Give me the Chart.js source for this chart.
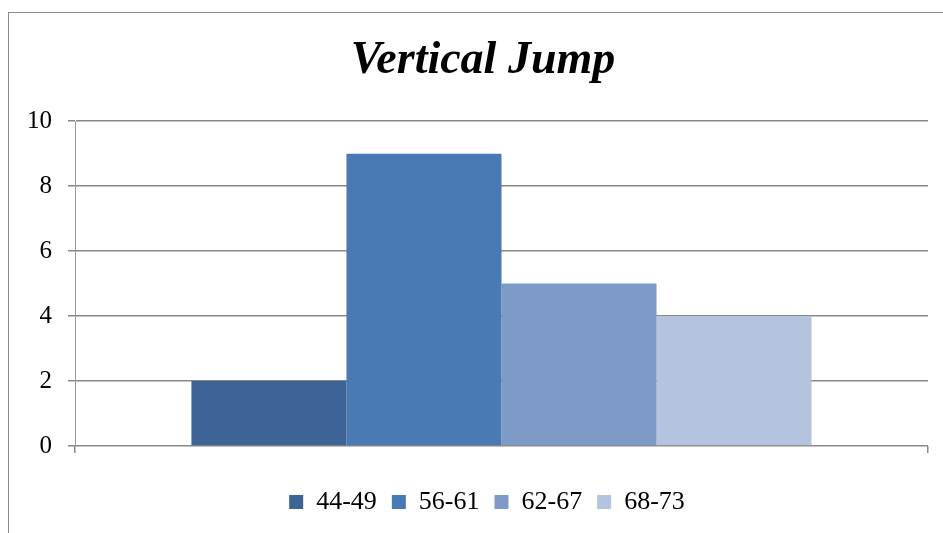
<!DOCTYPE html>
<html>
<head>
<meta charset="utf-8">
<script src="https://cdn.jsdelivr.net/npm/chart.js@4/dist/chart.umd.min.js"></script>
<style>
  html, body { margin: 0; padding: 0; background: #fff; overflow: hidden; }
  #c { display: block; }
</style>
</head>
<body>
<canvas id="c" width="943" height="533"></canvas>
<script>
const titleText = 'Vertical Jump';
const categories = [''];
const seriesLabels = ['44-49', '56-61', '62-67', '68-73'];
const seriesValues = [2, 9, 5, 4];
const seriesColors = ['#3C6494', '#4A7AB4', '#7E9BC8', '#B4C3DE'];
const yTicks = [0, 2, 4, 6, 8, 10];

const frame = {
  id: 'frame',
  beforeDraw(chart) {
    const ctx = chart.ctx;
    ctx.save();
    ctx.fillStyle = '#ffffff';
    ctx.fillRect(0, 0, chart.width, chart.height);
    ctx.strokeStyle = '#8c8c8c';
    ctx.lineWidth = 1;
    ctx.strokeRect(8.5, 12.5, 2000, 2000);
    ctx.restore();
  },
  afterLayout(chart) {
    // centre title and legend on the (wider) original frame
    if (chart.titleBlock) { chart.titleBlock.left = 38; }
    if (chart.legend) { chart.legend.left = 46; }
  }
};

const datasets = seriesLabels.map((lab, i) => ({
  label: lab,
  data: [seriesValues[i]],
  backgroundColor: seriesColors[i],
  borderWidth: 0,
  categoryPercentage: 0.727,
  barPercentage: 1.0
}));

new Chart(document.getElementById('c'), {
  type: 'bar',
  data: { labels: categories, datasets },
  plugins: [frame],
  options: {
    responsive: false,
    animation: false,
    events: [],
    layout: { padding: { left: 15, right: 15, top: 0, bottom: 8 } },
    plugins: {
      title: {
        display: true,
        text: titleText,
        color: '#000',
        font: { family: '"Liberation Serif", "Times New Roman", serif', size: 46, weight: 'bold', style: 'italic', lineHeight: 1.2 },
        padding: { top: 34, bottom: 32 }
      },
      legend: {
        display: true,
        position: 'bottom',
        labels: {
          color: '#000',
          boxWidth: 14,
          boxHeight: 14,
          padding: 15,
          font: { family: '"Liberation Serif", "Times New Roman", serif', size: 26 }
        }
      },
      tooltip: { enabled: false }
    },
    scales: {
      x: {
        offset: true,
        grid: { offset: true, drawOnChartArea: false, drawTicks: true, tickLength: 7, color: '#888', lineWidth: 1.5 },
        border: { display: false },
        ticks: { display: false },
        afterFit(scale) { scale.height = 28; }
      },
      y: {
        min: 0,
        max: 10,
        afterBuildTicks(scale) { scale.ticks = yTicks.map(v => ({ value: v })); },
        grid: { color: '#888', lineWidth: 1.5, tickLength: 7, drawTicks: true },
        border: { display: true, color: '#9a9a9a', width: 1 },
        ticks: {
          color: '#000',
          padding: 16,
          font: { family: '"Liberation Serif", "Times New Roman", serif', size: 25 }
        },
        afterFit(scale) { scale.width = 75 - 15; }
      }
    }
  }
});
</script>
</body>
</html>
